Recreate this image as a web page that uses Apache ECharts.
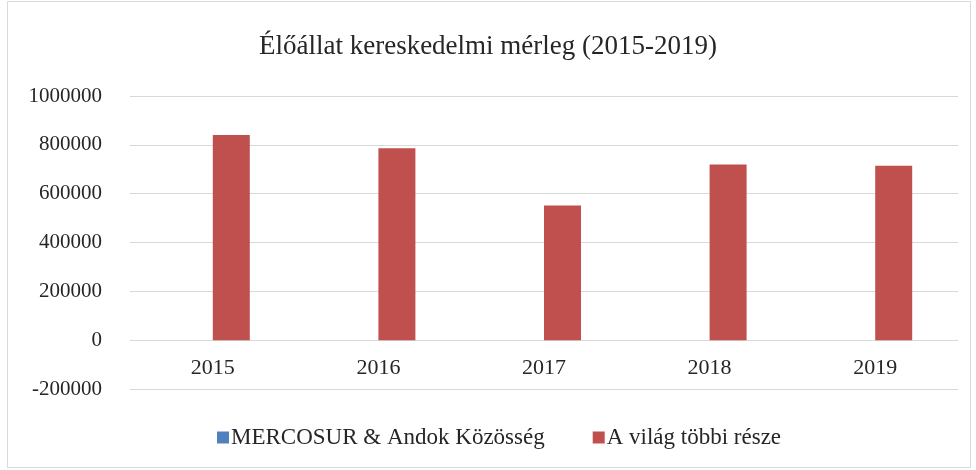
<!DOCTYPE html>
<html>
<head>
<meta charset="utf-8">
<script src="https://cdn.jsdelivr.net/npm/echarts@6/dist/echarts.min.js"></script>
<style>
html,body{margin:0;padding:0;background:#fff;}
#main{width:976px;height:470px;}
</style>
</head>
<body>
<div id="main"></div>
<script>
var years = ['2015', '2016', '2017', '2018', '2019'];
var mercosur = [0, 0, 0, 0, 0];
var restOfWorld = [840000, 786000, 552000, 719000, 714000];
var yTicks = { min: -200000, max: 1000000, step: 200000 };

var font = '"Liberation Serif", "Times New Roman", serif';
var myChart = echarts.init(document.getElementById('main'));
var option = {
    backgroundColor: '#fff',
    animation: false,
    graphic: [{
        type: 'rect',
        shape: { x: 7.5, y: 1.5, width: 963, height: 466 },
        style: { fill: 'none', stroke: '#d9d9d9', lineWidth: 1 }
    }],
    title: {
        text: 'Élőállat kereskedelmi mérleg (2015-2019)',
        left: 'center',
        top: 28,
        textStyle: { fontFamily: font, fontSize: 27, fontWeight: 'normal', color: '#262626' }
    },
    legend: {
        bottom: 16,
        left: 212,
        itemWidth: 12,
        itemHeight: 12,
        itemGap: 48,
        icon: 'rect',
        textStyle: { fontFamily: font, fontSize: 23, color: '#262626', padding: [0, 0, 0, -3] },
        data: ['MERCOSUR & Andok Közösség', 'A világ többi része']
    },
    grid: { left: 130, right: 18, top: 96, bottom: 81, containLabel: false },
    xAxis: {
        type: 'category',
        data: years,
        offset: -49,
        axisTick: { show: false },
        axisLine: { show: false },
        axisLabel: { fontFamily: font, fontSize: 22, color: '#262626', margin: 17 }
    },
    yAxis: {
        type: 'value',
        min: yTicks.min,
        max: yTicks.max,
        interval: yTicks.step,
        axisLine: { show: false },
        axisTick: { show: false },
        splitLine: { lineStyle: { color: '#d9d9d9', width: 1 } },
        axisLabel: {
            fontFamily: font, fontSize: 21, color: '#262626', margin: 28,
            formatter: function (val) { return String(val); }
        }
    },
    series: [{
        name: 'MERCOSUR & Andok Közösség',
        type: 'bar',
        barWidth: 37,
        barGap: '0%',
        itemStyle: { color: '#4f81bd' },
        data: mercosur
    }, {
        name: 'A világ többi része',
        type: 'bar',
        barWidth: 37,
        barGap: '0%',
        itemStyle: { color: '#c0504d' },
        data: restOfWorld
    }]
};
myChart.setOption(option);
</script>
</body>
</html>
